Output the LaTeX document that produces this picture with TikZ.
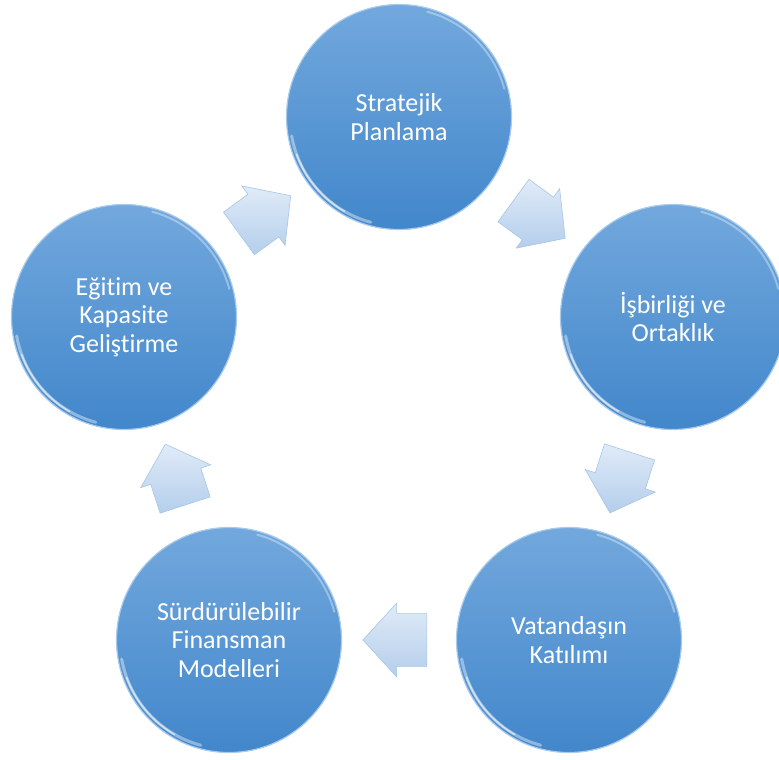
\documentclass[tikz,border=0pt]{standalone}
\usepackage{fontspec}
\setmainfont{Carlito}[Ligatures=NoCommon]
\usetikzlibrary{shapes.arrows}
\usetikzlibrary{calc}

\definecolor{stagetop}{RGB}{114,168,221}
\definecolor{stagebot}{RGB}{66,135,203}
\definecolor{stagerim}{RGB}{168,203,237}
\definecolor{flowtop}{RGB}{224,235,248}
\definecolor{flowbot}{RGB}{180,206,235}
\definecolor{flowedge}{RGB}{166,197,231}

\tikzset{
  stage/.style={circle, minimum size=225pt, inner sep=0pt, top color=stagetop,
    bottom color=stagebot, draw=stagerim, line width=1.2pt, text=white,
    align=center, font=\fontsize{26}{28.5}\selectfont},
  flow/.style={single arrow, minimum height=64pt, minimum width=73pt,
    text height=26pt, text depth=26pt, single arrow head extend=10.5pt,
    single arrow tip angle=95, inner sep=0pt,
    top color=flowtop, bottom color=flowbot, draw=flowedge, line width=.6pt,
    sloped, allow upside down, pos=.43},
  gloss/.style={white, line width=3pt, line cap=round, opacity=.4}
}

\begin{document}
\begin{tikzpicture}[x=1pt,y=1pt]
\useasboundingbox (0,0) rectangle (779,760);

\node[stage] (plan) at (399,643) {Stratejik\\Planlama};
\node[stage] (ortak) at (673,443) {İşbirliği ve\\Ortaklık};
\node[stage] (katilim) at (569,120) {Vatandaşın\\Katılımı};
\node[stage] (finans) at (229,120) {Sürdürülebilir\\Finansman\\Modelleri};
\node[stage] (egitim) at (124,443) {Eğitim ve\\Kapasite\\Geliştirme};

% shine on the rims
\foreach \s in {plan,ortak,katilim,finans,egitim}{
  \draw[gloss] ($(\s)+(190:109)$) arc[start angle=190, end angle=255, radius=109];
  \draw[gloss, line width=1.5pt, opacity=.6] ($(\s)+(200:109)$) arc[start angle=200, end angle=240, radius=109];
  \draw[gloss, line width=2pt, opacity=.35] ($(\s)+(15:109)$) arc[start angle=15, end angle=75, radius=109];
}

% block arrows round the cycle
\path (plan) -- node[flow] (a1) {} (ortak);
\path (ortak) -- node[flow] (a2) {} (katilim);
\path (katilim) -- node[flow] (a3) {} (finans);
\path (finans) -- node[flow] (a4) {} (egitim);
\path (egitim) -- node[flow] (a5) {} (plan);
\end{tikzpicture}
\end{document}
